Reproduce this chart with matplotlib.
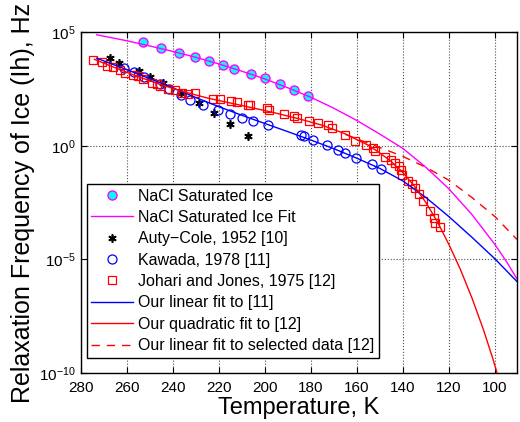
import numpy as np
import matplotlib
matplotlib.use('Agg')
import matplotlib.pyplot as plt

plt.rcParams['font.family'] = ['Liberation Sans', 'DejaVu Sans']
plt.rcParams['mathtext.fontset'] = 'custom'
plt.rcParams['mathtext.rm'] = 'Liberation Sans'
plt.rcParams['mathtext.it'] = 'Liberation Sans:italic'

# log10 of relaxation frequency (Hz)
nacl_T = [253.0, 245.2, 237.3, 230.3, 224.1, 218.3, 213.3, 206.2, 200.1, 193.3, 187.1, 181.3]
nacl_log = [4.57, 4.30, 4.09, 3.92, 3.74, 3.55, 3.38, 3.14, 2.98, 2.73, 2.46, 2.19]

nacl_fit_T = [273, 260, 250, 240, 230, 220, 210, 200, 190, 180, 170, 160, 150, 140, 130, 120, 110,
              100, 95, 90.5]
nacl_fit_log = [4.88, 4.62, 4.39, 4.15, 3.89, 3.60, 3.28, 2.94, 2.55, 2.13, 1.65, 1.11, 0.51, -0.12,
                -0.95, -1.90, -3.03, -4.35, -5.1, -5.85]

auty_T = [267.3, 263.2, 254.8, 249.9, 244.0, 236.2, 228.5, 222.0, 214.9, 207.5]
auty_log = [3.84, 3.65, 3.27, 3.04, 2.75, 2.32, 1.88, 1.43, 0.97, 0.45]

kawada_T = [261.0, 257.0, 252.5, 245.5, 241.7, 236.6, 232.5, 227.0, 220.5, 215.1, 209.7, 205.3, 198.8,
            184.2, 182.9, 178.9, 173.0, 168.3, 165.0, 160.4, 153.4, 149.5]
kawada_log = [3.40, 3.23, 3.02, 2.72, 2.50, 2.22, 2.03, 1.80, 1.56, 1.38, 1.22, 1.10, 0.92,
              0.48, 0.44, 0.26, 0.04, -0.20, -0.33, -0.54, -0.80, -1.02]

jj_T = [274.5, 270.9, 268.7, 266.0, 263.0, 260.7, 257.1, 255.0, 252.8, 249.1, 247.0, 245.5, 241.9, 239.0,
        236.0, 233.2, 230.3, 222.6, 219.4, 214.8, 211.9, 207.4, 206.4, 199.1, 198.0, 191.6, 187.3, 185.8,
        181.0, 176.7, 172.6, 170.9, 165.1, 160.7, 156.0, 153.0, 152.0, 147.7, 145.1, 143.3, 141.9, 140.7,
        140.4, 137.6, 136.1, 134.7, 132.8, 131.3, 128.4, 126.7, 126.0, 124.1]
jj_log = [3.77, 3.67, 3.51, 3.45, 3.33, 3.21, 3.11, 3.05, 2.93, 2.78, 2.72, 2.63, 2.49, 2.43,
          2.33, 2.28, 2.34, 2.06, 2.06, 1.97, 1.92, 1.78, 1.81, 1.65, 1.59, 1.39, 1.30, 1.24,
          1.10, 1.00, 0.89, 0.78, 0.48, 0.23, 0.04, -0.10, -0.25, -0.50, -0.61, -0.75, -0.88, -1.05,
          -1.27, -1.57, -1.67, -1.86, -2.11, -2.44, -2.88, -3.17, -3.39, -3.58]

kawada_fit_T = [273, 260, 250, 240, 230, 220, 210, 200, 190, 180, 170, 160, 150, 140, 130, 120, 110,
                100, 90.5]
kawada_fit_log = [3.85, 3.35, 2.95, 2.55, 2.12, 1.72, 1.34, 0.98, 0.62, 0.25, -0.13, -0.55, -1.0, -1.55,
                  -2.28, -3.12, -4.03, -4.98, -5.97]

quad_T = [274, 265, 255, 245, 235, 225, 215, 205, 195, 185, 175, 165, 155, 150, 145, 140, 135, 130,
          125, 120, 115, 110, 105, 101, 98.8]
quad_log = [3.80, 3.43, 3.04, 2.68, 2.37, 2.10, 1.88, 1.66, 1.43, 1.18, 0.90, 0.52, 0.02, -0.32, -0.70,
            -1.18, -1.78, -2.50, -3.35, -4.35, -5.45, -6.70, -8.10, -9.35, -10.1]

sel_T = [165, 160, 150, 140, 130, 120, 110, 100, 90.5]
sel_log = [0.50, 0.30, -0.08, -0.47, -0.95, -1.52, -2.28, -3.12, -4.12]


def hz(v):
    return 10.0 ** np.array(v)


fig = plt.figure(figsize=(5.2, 4.22), dpi=100)
ax = fig.add_axes([0.155, 0.116, 0.839, 0.808])

ax.semilogy(nacl_T, hz(nacl_log), 'o', mfc='cyan', mec='magenta', ms=6.5, mew=1.0,
            label='NaCl Saturated Ice')
ax.semilogy(nacl_fit_T, hz(nacl_fit_log), '-', color='magenta', lw=1.0, label='NaCl Saturated Ice Fit')
ax.semilogy(auty_T, hz(auty_log), ls='none', marker=(6, 2, 0), color='k', ms=6, mew=1.2,
            label='Auty\u2212Cole, 1952 [10]')
ax.semilogy(kawada_T, hz(kawada_log), 'o', mfc='none', mec='blue', ms=6.5, mew=0.9,
            label='Kawada, 1978 [11]')
ax.semilogy(jj_T, hz(jj_log), 's', mfc='none', mec='red', ms=6, mew=0.9,
            label='Johari and Jones, 1975 [12]')
ax.semilogy(kawada_fit_T, hz(kawada_fit_log), '-', color='blue', lw=1.0, label='Our linear fit to [11]')
ax.semilogy(quad_T, hz(quad_log), '-', color='red', lw=1.0, label='Our quadratic fit to [12]')
ax.semilogy(sel_T, hz(sel_log), '--', color='red', lw=1.0, dashes=(6, 5),
            label='Our linear fit to selected data [12]')

ax.set_xlim(280, 90.5)
ax.set_ylim(1e-10, 1e5)
ax.set_xticks(range(280, 90, -20))
ax.set_yticks([1e-10, 1e-5, 1e0, 1e5])
ax.minorticks_off()
ax.tick_params(direction='in', top=True, right=True, labelsize=11, length=4)
ax.tick_params(axis='x', pad=6)
ax.grid(True, ls=':', color='0.3', lw=0.8)
for s in ax.spines.values():
    s.set_linewidth(1.0)

ax.set_xlabel('Temperature, K', fontsize=17, labelpad=1)
ax.set_ylabel('Relaxation Frequency of Ice (Ih), Hz', fontsize=18, labelpad=3)

leg = ax.legend(loc='lower left', bbox_to_anchor=(0.014, 0.044), borderaxespad=0, fontsize=11.5,
                fancybox=False, edgecolor='k', framealpha=1, handlelength=2.6, handletextpad=0.3,
                labelspacing=0.4, borderpad=0.3)
leg.get_frame().set_linewidth(1.0)

fig.savefig('out.png', dpi=100)
